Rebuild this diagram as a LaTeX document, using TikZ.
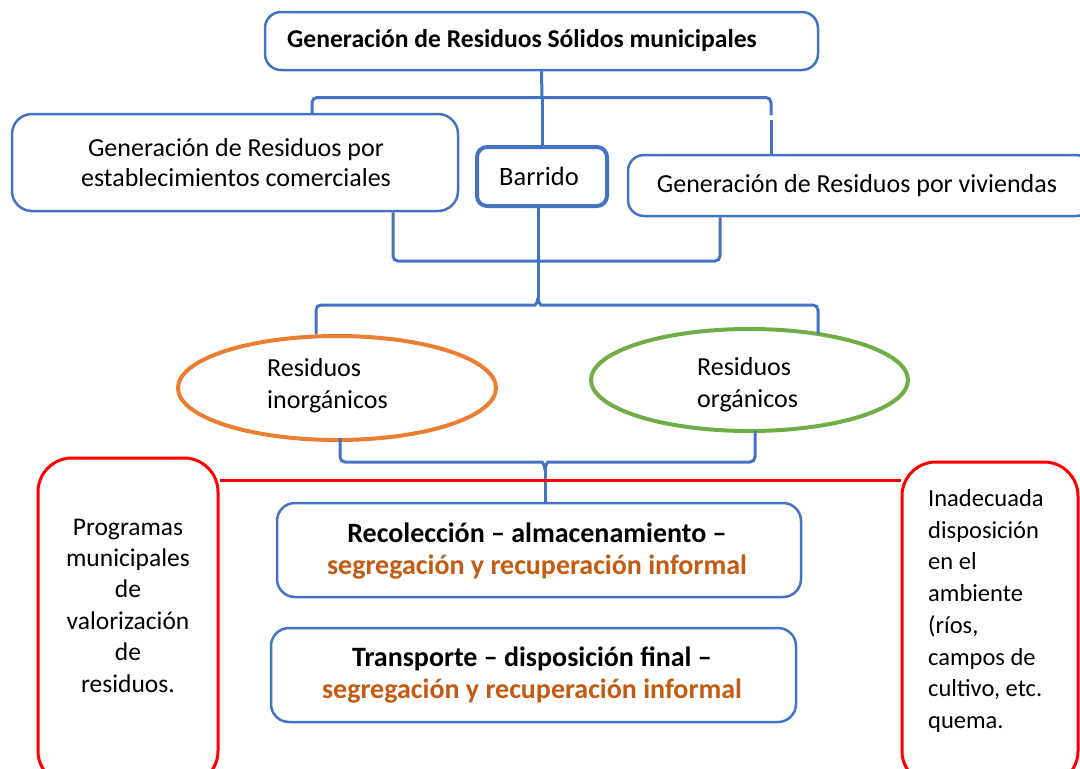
\documentclass[tikz,border=0pt]{standalone}
\usepackage{fontspec}
\setmainfont{Carlito}
\usetikzlibrary{shapes.geometric}
\definecolor{cblue}{HTML}{4472C4}
\definecolor{corange}{HTML}{ED7D31}
\definecolor{cgreen}{HTML}{70AD47}
\definecolor{cred}{HTML}{FF0000}
\definecolor{ctext}{HTML}{C55A11}
\begin{document}
\begin{tikzpicture}[x=1pt,y=-1pt,
  bbox/.style={draw=cblue, line width=2.5pt, rounded corners=16pt, fill=white, inner sep=0pt},
  rbox/.style={draw=cred, line width=3pt, rounded corners=34pt, fill=white, inner sep=0pt},
  ell/.style={ellipse, line width=4pt, fill=white, inner sep=0pt},
  conn/.style={draw=cblue, line width=3pt, rounded corners=5pt},
  txt/.style={font=\fontsize{26}{30}\selectfont, align=center, inner sep=0pt},
  btxt/.style={font=\fontsize{28}{32}\selectfont\bfseries, align=center, inner sep=0pt}
]
\useasboundingbox (0,0) rectangle (1080,769);
\clip (0,0) rectangle (1080,769);

\coordinate (j1) at (542,97.5);
\coordinate (j2) at (538,261);
\coordinate (j3) at (538,298);
\coordinate (j4) at (545,470);

% boxes
\node[bbox, minimum width=553pt, minimum height=58pt] (top) at (541.5,41) {};
\node[bbox, rounded corners=20pt, minimum width=446pt, minimum height=97pt] (left) at (235,162.5) {};
\node[bbox, line width=4pt, rounded corners=10pt, minimum width=130pt, minimum height=59pt] (barrido) at (542,176.5) {};
\node[bbox, rounded corners=16pt, minimum width=464pt, minimum height=61pt] (right) at (860,185.5) {};
\node[ell, draw=corange, minimum width=318pt, minimum height=104pt] (inorg) at (337,388) {};
\node[ell, draw=cgreen, minimum width=317pt, minimum height=102pt] (org) at (749.5,380) {};
\node[bbox, rounded corners=18pt, minimum width=524pt, minimum height=94pt] (rec) at (539,550) {};
\node[bbox, rounded corners=18pt, minimum width=525pt, minimum height=94pt] (tra) at (533.5,675) {};
\node[rbox, minimum width=180pt, minimum height=327pt] (lred) at (128,621.5) {};
\node[rbox, minimum width=176pt, minimum height=323pt] (rred) at (990,623.5) {};

% connectors
\draw[conn] (top.south) -- (j1);
\draw[conn] (left.north -| 312,0) -- (312,97.5) -- (771,97.5) -- (771,115);
\draw[conn] (771,120) -- (right.north -| 771,0);
\draw[conn] (j1) -- (barrido.north -| j1);
\draw[conn] (left.south -| 393,0) -- (393,261) -- (720,261) -- (right.south -| 720,0);
\draw[conn] (barrido.south -| j2) -- (j3);
\draw[conn] (inorg.north -| 316,0) -- (316,305) -- (530,305) .. controls (535,305) and (538,302) .. (j3);
\draw[conn] (818,334) -- (818,305) -- (546,305) .. controls (541,305) and (538,302) .. (j3);
\draw[conn] (340,438) -- (340,462) -- (537,462) .. controls (542,462) and (545,465) .. (j4);
\draw[conn] (755,431) -- (755,462) -- (553,462) .. controls (548,462) and (545,465) .. (j4);
\draw[conn] (j4) -- (rec.north -| j4);
\draw[draw=cred, line width=3pt] (lred.east |- 0,480) -- (rred.west |- 0,480);

% texts
\node[btxt, font=\fontsize{25.6}{26}\selectfont\bfseries] (topt) at (522,41) {Generación de Residuos Sólidos municipales};
\node[txt] (leftt) at (236,163) {Generación de Residuos por\\establecimientos comerciales};
\node[txt, font=\fontsize{26.5}{30}\selectfont] (barridot) at (539,176) {Barrido};
\node[txt] (rightt) at (857,186) {Generación de Residuos por viviendas};
\node[txt, font=\fontsize{26}{32}\selectfont, align=left, anchor=west] (inorgt) at (267,386) {Residuos\\inorgánicos};
\node[txt, font=\fontsize{26}{32}\selectfont, align=left, anchor=west] (orgt) at (697,385) {Residuos\\orgánicos};
\node[btxt] (rect) at (537,551) {Recolección -- almacenamiento --\\\textcolor{ctext}{segregación y recuperación informal}};
\node[btxt] (trat) at (532,675) {Transporte -- disposición final --\\\textcolor{ctext}{segregación y recuperación informal}};
\node[txt, font=\fontsize{25.5}{31.4}\selectfont] (lredt) at (128,605.5) {Programas\\municipales\\de\\valorización\\de\\residuos.};
\node[txt, font=\fontsize{24.5}{31.7}\selectfont, align=left, anchor=west] (rredt) at (928,611) {Inadecuada\\disposición\\en el\\ambiente\\(ríos,\\campos de\\cultivo, etc.\\quema.};
\end{tikzpicture}
\end{document}
